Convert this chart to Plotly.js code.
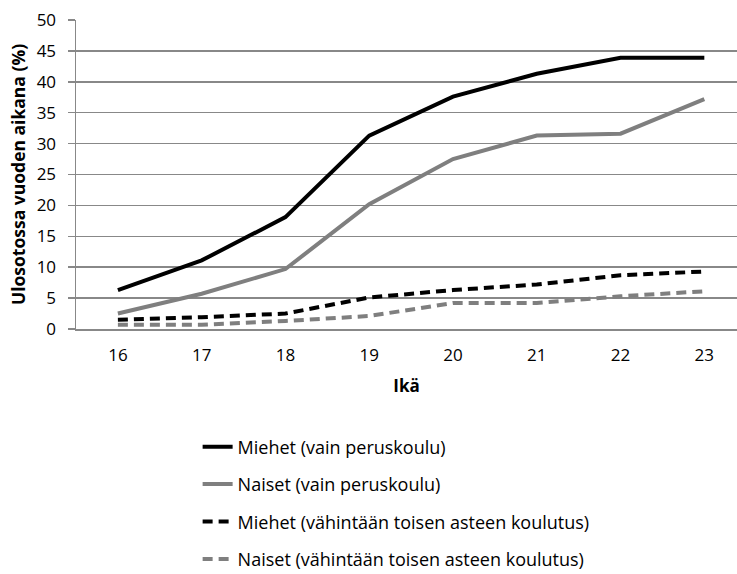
<!DOCTYPE html>
<html><head><meta charset="utf-8">
<script src="https://cdn.plot.ly/plotly-3.0.1.min.js"></script>
<style>body{margin:0;background:#fff}#c{width:737px;height:574px}</style>
</head><body><div id="c"></div>
<script>
const ages = ['16','17','18','19','20','21','22','23'];
const miehetPerus = [6.3, 11.1, 18.1, 31.3, 37.6, 41.3, 43.9, 43.9];
const naisetPerus = [2.5, 5.7, 9.7, 20.2, 27.5, 31.3, 31.6, 37.2];
const miehetToinen = [1.5, 1.9, 2.5, 5.1, 6.3, 7.2, 8.7, 9.3];
const naisetToinen = [0.7, 0.7, 1.3, 2.1, 4.2, 4.2, 5.3, 6.1];
const names = ['Miehet (vain peruskoulu)','Naiset (vain peruskoulu)','Miehet (vähintään toisen asteen koulutus)','Naiset (vähintään toisen asteen koulutus)'];
const yTicks = [0,5,10,15,20,25,30,35,40,45,50];

const F = '"Open Sans", sans-serif';
function tr(y, i, color, dash){
  return {x: ages, y: y, name: names[i], type:'scatter', mode:'lines',
    legendgroup:'g'+i, line:{color:color, width:4, dash:dash}};
}
const data = [
  tr(miehetPerus,0,'#000000','solid'),
  tr(naisetPerus,1,'#7f7f7f','solid'),
  tr(miehetToinen,2,'#000000','10px,6px'),
  tr(naisetToinen,3,'#7f7f7f','10px,6px')
];
const layout = {
  width:737, height:574,
  margin:{l:76, r:0, t:20, b:245, autoexpand:false},
  paper_bgcolor:'#fff', plot_bgcolor:'#fff',
  font:{family:F, size:15, color:'#000'},
  showlegend:true,
  legend:{x:0.184, y:-0.322, xanchor:'left', yanchor:'top', orientation:'v',
    traceorder:'grouped', tracegroupgap:11, font:{family:F, size:18, color:'#000'}, bgcolor:'rgba(0,0,0,0)'},
  xaxis:{type:'category', range:[-0.5, 7.39], showgrid:false, zeroline:false,
    showline:true, linecolor:'#888', linewidth:1.5, ticks:'outside', ticklen:10, tickcolor:'rgba(0,0,0,0)',
    tickfont:{family:F, size:17, color:'#000'},
    title:{text:'<b>Ikä</b>', font:{family:F, size:17, color:'#000'}, standoff:15}},
  yaxis:{range:[0,50], tickvals:yTicks, ticktext:yTicks.map(String), showgrid:true,
    gridcolor:'#888', gridwidth:1.5, zeroline:false, showline:true, linecolor:'#888', linewidth:1.5,
    ticks:'outside', ticklen:7, tickcolor:'#888', tickwidth:1.5, ticklabelstandoff:8,
    tickfont:{family:F, size:17, color:'#000'},
    title:{text:'<b>Ulosotossa vuoden aikana (%)</b>', font:{family:F, size:17.5, color:'#000'}, standoff:6}}
};
Plotly.newPlot('c', data, layout, {displayModeBar:false, staticPlot:true});
</script></body></html>
